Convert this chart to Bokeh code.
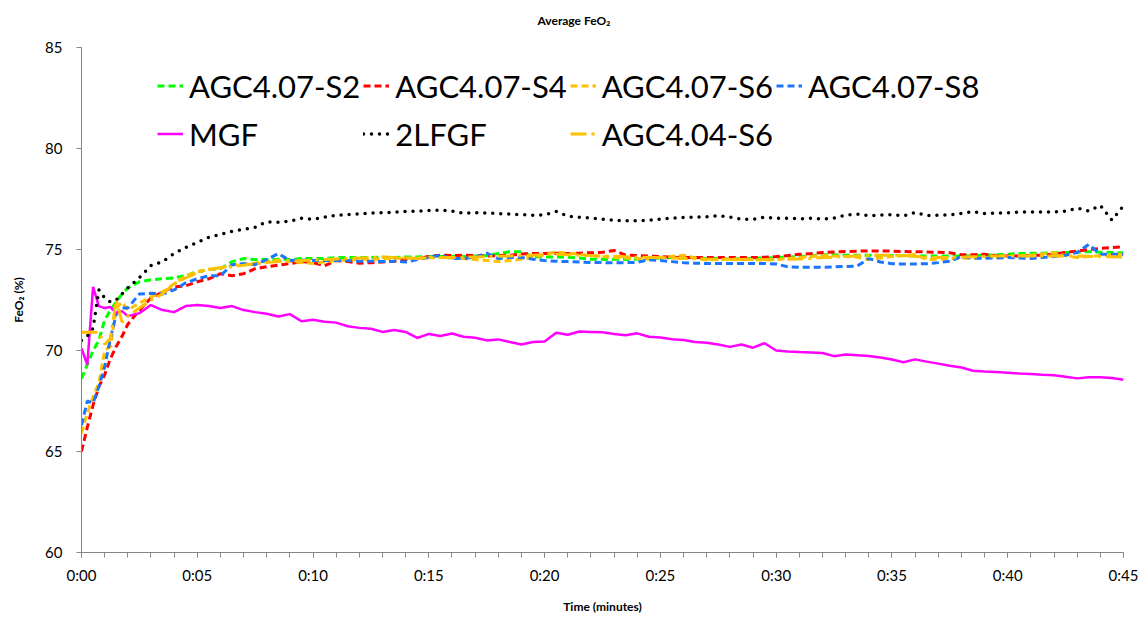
from bokeh.plotting import figure
from bokeh.models import Range1d, FixedTicker, Legend, LegendItem, Title
from bokeh.embed import file_html
from bokeh.resources import INLINE

time_min = [0, 0.25, 0.5, 0.75, 1.0, 1.25, 1.5, 1.75,
            2.0, 2.5, 3.0, 3.5, 4.0, 4.5, 5.0, 5.5, 6.0, 6.5,
            7.0, 7.5, 8.0, 8.5, 9.0, 9.5, 10.0, 10.5, 11.0, 11.5,
            12.0, 12.5, 13.0, 13.5, 14.0, 14.5, 15.0, 15.5, 16.0, 16.5,
            17.0, 17.5, 18.0, 18.5, 19.0, 19.5, 20.0, 20.5, 21.0, 21.5,
            22.0, 22.5, 23.0, 23.5, 24.0, 24.5, 25.0, 25.5, 26.0, 26.5,
            27.0, 27.5, 28.0, 28.5, 29.0, 29.5, 30.0, 30.5, 31.0, 31.5,
            32.0, 32.5, 33.0, 33.5, 34.0, 34.5, 35.0, 35.5, 36.0, 36.5,
            37.0, 37.5, 38.0, 38.5, 39.0, 39.5, 40.0, 40.5, 41.0, 41.5,
            42.0, 42.5, 43.0, 43.5, 44.0, 44.5, 45.0]

agc407_s2 = [68.6, 69.3, 70.0, 70.5, 71.5, 72.0, 72.4, 72.8,
             73.1, 73.4, 73.5, 73.55, 73.6, 73.7, 73.9, 74.0, 74.05, 74.4,
             74.55, 74.5, 74.5, 74.52, 74.5, 74.55, 74.56, 74.55, 74.6, 74.6,
             74.6, 74.6, 74.62, 74.6, 74.63, 74.63, 74.65, 74.65, 74.66, 74.65,
             74.68, 74.7, 74.8, 74.89, 74.89, 74.65, 74.63, 74.63, 74.62, 74.58,
             74.52, 74.51, 74.52, 74.51, 74.52, 74.55, 74.58, 74.6, 74.63, 74.6,
             74.56, 74.55, 74.53, 74.55, 74.56, 74.58, 74.6, 74.62, 74.65, 74.68,
             74.74, 74.74, 74.72, 74.72, 74.72, 74.7, 74.7, 74.69, 74.68, 74.68,
             74.68, 74.68, 74.68, 74.7, 74.72, 74.74, 74.77, 74.8, 74.81, 74.82,
             74.84, 74.85, 74.87, 74.89, 74.87, 74.85, 74.84]

agc407_s4 = [65.0, 66.2, 67.3, 68.2, 68.8, 69.6, 70.2, 70.7,
             71.3, 72.0, 72.6, 72.9, 73.15, 73.2, 73.4, 73.55, 73.8, 73.7,
             73.8, 74.05, 74.15, 74.22, 74.3, 74.4, 74.35, 74.2, 74.45, 74.4,
             74.32, 74.35, 74.38, 74.42, 74.5, 74.55, 74.65, 74.72, 74.7, 74.72,
             74.7, 74.68, 74.7, 74.72, 74.78, 74.8, 74.8, 74.82, 74.8, 74.82,
             74.84, 74.86, 74.95, 74.72, 74.7, 74.68, 74.65, 74.62, 74.6, 74.6,
             74.6, 74.6, 74.6, 74.6, 74.6, 74.62, 74.65, 74.7, 74.76, 74.8,
             74.85, 74.88, 74.9, 74.92, 74.92, 74.92, 74.92, 74.9, 74.89, 74.88,
             74.86, 74.84, 74.74, 74.74, 74.76, 74.7, 74.68, 74.68, 74.7, 74.72,
             74.78, 74.86, 74.92, 75.0, 75.05, 75.1, 75.13]

agc407_s6 = [65.9, 66.9, 67.7, 68.4, 70.0, 70.2, 72.1, 72.4,
             72.0, 72.35, 72.65, 72.9, 73.3, 73.7, 73.9, 74.0, 74.1, 74.23,
             74.28, 74.33, 74.4, 74.48, 74.42, 74.35, 74.31, 74.38, 74.45, 74.48,
             74.5, 74.52, 74.54, 74.56, 74.58, 74.58, 74.6, 74.6, 74.58, 74.55,
             74.5, 74.45, 74.4, 74.45, 74.52, 74.6, 74.75, 74.88, 74.82, 74.76,
             74.7, 74.65, 74.6, 74.58, 74.55, 74.53, 74.6, 74.66, 74.72, 74.58,
             74.48, 74.5, 74.53, 74.52, 74.5, 74.48, 74.5, 74.55, 74.6, 74.65,
             74.7, 74.68, 74.65, 74.62, 74.5, 74.58, 74.65, 74.7, 74.75, 74.5,
             74.52, 74.55, 74.57, 74.58, 74.6, 74.62, 74.65, 74.68, 74.72, 74.78,
             74.84, 74.7, 74.6, 74.65, 74.7, 74.74, 74.76]

agc407_s8 = [66.3, 67.5, 67.4, 68.2, 69.2, 70.6, 71.8, 72.1,
             72.1, 72.8, 72.83, 72.8, 73.0, 73.35, 73.55, 73.7, 73.7, 74.25,
             74.3, 74.25, 74.5, 74.8, 74.45, 74.48, 74.45, 74.45, 74.45, 74.45,
             74.42, 74.42, 74.4, 74.42, 74.38, 74.5, 74.6, 74.72, 74.55, 74.55,
             74.62, 74.82, 74.55, 74.6, 74.6, 74.52, 74.45, 74.42, 74.4, 74.38,
             74.36, 74.35, 74.35, 74.35, 74.36, 74.5, 74.45, 74.4, 74.35, 74.32,
             74.31, 74.31, 74.31, 74.31, 74.31, 74.31, 74.28, 74.15, 74.12, 74.12,
             74.12, 74.14, 74.16, 74.18, 74.55, 74.38, 74.3, 74.28, 74.28, 74.3,
             74.35, 74.42, 74.65, 74.56, 74.57, 74.58, 74.6, 74.58, 74.56, 74.6,
             74.65, 74.72, 74.85, 75.25, 74.76, 74.76, 74.76]

mgf = [70.1, 69.3, 73.15, 72.2, 72.1, 72.15, 71.85, 71.95,
       71.7, 71.85, 72.25, 72.0, 71.9, 72.2, 72.25, 72.2, 72.1, 72.2,
       72.0, 71.9, 71.82, 71.68, 71.8, 71.45, 71.52, 71.42, 71.38, 71.2,
       71.12, 71.08, 70.92, 71.02, 70.92, 70.62, 70.82, 70.72, 70.84, 70.68,
       70.63, 70.5, 70.55, 70.42, 70.3, 70.42, 70.45, 70.88, 70.78, 70.94,
       70.92, 70.9, 70.82, 70.76, 70.85, 70.68, 70.64, 70.56, 70.52, 70.42,
       70.38, 70.3, 70.18, 70.3, 70.14, 70.36, 70.0, 69.95, 69.92, 69.9,
       69.88, 69.72, 69.8, 69.77, 69.73, 69.65, 69.55, 69.42, 69.56, 69.45,
       69.35, 69.25, 69.16, 69.0, 68.96, 68.94, 68.9, 68.86, 68.84, 68.8,
       68.78, 68.7, 68.62, 68.68, 68.68, 68.64, 68.55]

lfgf2 = [70.5, 70.7, 71.1, 73.0, 72.6, 72.4, 72.5, 72.8,
         73.1, 73.6, 74.2, 74.4, 74.8, 75.1, 75.35, 75.6, 75.75, 75.9,
         76.0, 76.1, 76.37, 76.35, 76.4, 76.55, 76.5, 76.6, 76.7, 76.73,
         76.76, 76.8, 76.82, 76.85, 76.88, 76.9, 76.93, 76.95, 76.9, 76.8,
         76.82, 76.8, 76.78, 76.75, 76.72, 76.7, 76.72, 76.88, 76.65, 76.6,
         76.55, 76.5, 76.45, 76.42, 76.42, 76.45, 76.5, 76.55, 76.58, 76.6,
         76.62, 76.67, 76.6, 76.5, 76.5, 76.6, 76.55, 76.55, 76.52, 76.55,
         76.5, 76.55, 76.7, 76.75, 76.68, 76.7, 76.72, 76.66, 76.83, 76.68,
         76.7, 76.72, 76.78, 76.88, 76.78, 76.8, 76.82, 76.86, 76.86, 76.85,
         76.86, 76.9, 77.05, 76.9, 77.18, 76.45, 77.16]

agc404_s6 = [70.9, 70.9, 70.9, 70.9, 70.3, 70.6, 72.5, 71.4,
             71.7, 72.1, 72.5, 72.8, 73.3, 73.6, 73.85, 74.02, 74.1, 74.15,
             74.22, 74.3, 74.35, 74.4, 74.42, 74.45, 74.48, 74.5, 74.53, 74.56,
             74.58, 74.6, 74.63, 74.6, 74.58, 74.56, 74.58, 74.6, 74.6, 74.62,
             74.63, 74.65, 74.66, 74.68, 74.7, 74.72, 74.74, 74.76, 74.74, 74.72,
             74.7, 74.68, 74.66, 74.64, 74.62, 74.6, 74.6, 74.58, 74.56, 74.54,
             74.52, 74.51, 74.51, 74.5, 74.5, 74.5, 74.51, 74.52, 74.53, 74.56,
             74.6, 74.62, 74.65, 74.68, 74.7, 74.72, 74.72, 74.7, 74.66, 74.62,
             74.6, 74.6, 74.62, 74.64, 74.66, 74.68, 74.68, 74.68, 74.68, 74.68,
             74.68, 74.68, 74.68, 74.66, 74.65, 74.64, 74.63]

series_names = ["AGC4.07-S2", "AGC4.07-S4", "AGC4.07-S6", "AGC4.07-S8",
                "MGF", "2LFGF", "AGC4.04-S6"]
x_ticks = [0, 5, 10, 15, 20, 25, 30, 35, 40, 45]
x_tick_labels = ["0:00", "0:05", "0:10", "0:15", "0:20", "0:25", "0:30",
                 "0:35", "0:40", "0:45"]
y_ticks = [60, 65, 70, 75, 80, 85]

FONT = "Lato"
AXIS_COLOR = "#868686"

p = figure(width=1140, height=616, output_backend="svg", toolbar_location=None,
           x_range=Range1d(0, 45), y_range=Range1d(60, 85),
           min_border_left=81, min_border_right=17, min_border_top=47,
           min_border_bottom=63)
p.outline_line_color = None
p.xgrid.visible = False
p.ygrid.visible = False
p.background_fill_color = "white"
p.border_fill_color = "white"

p.title = Title(text="Average FeO\u2082\n ", align="left", offset=456,
                text_font=FONT, text_font_size="12px", text_font_style="bold",
                text_color="black")

styles = [
    (agc407_s2, "#00FF00", "7 4", 3, "butt"),
    (agc407_s4, "#FF0000", "7 4", 3, "butt"),
    (agc407_s6, "#FFC000", "7 4", 3, "butt"),
    (agc407_s8, "#1A75FF", "7 4", 3, "butt"),
    (mgf, "#FF00FF", "solid", 2.5, "butt"),
    (lfgf2, "#000000", "0 8", 3.5, "round"),
    (agc404_s6, "#FFC000", "16 5 3 5", 3, "butt"),
]

items = []
for name, (vals, color, dash, w, cap) in zip(series_names, styles):
    r = p.line(time_min, vals, line_color=color, line_width=w, line_dash=dash,
               line_cap=cap)
    items.append(LegendItem(label=name, renderers=[r]))

legend = Legend(items=items, orientation="horizontal", ncols=4,
                location=(76, 396), padding=0, margin=0, spacing=3,
                glyph_width=26, glyph_height=45, label_height=45,
                label_standoff=6, label_text_font=FONT,
                label_text_font_size="31px", label_text_color="black",
                border_line_color=None, background_fill_alpha=0)
p.add_layout(legend, "center")

xa = p.xaxis[0]
xa.ticker = FixedTicker(ticks=x_ticks, minor_ticks=list(range(0, 46)))
xa.major_label_overrides = {t: l for t, l in zip(x_ticks, x_tick_labels)}
ya = p.yaxis[0]
ya.ticker = FixedTicker(ticks=y_ticks, minor_ticks=[])

for ax in (xa, ya):
    ax.axis_line_color = AXIS_COLOR
    ax.axis_line_width = 1
    ax.major_tick_line_color = AXIS_COLOR
    ax.minor_tick_line_color = AXIS_COLOR
    ax.major_tick_in = 0
    ax.major_tick_out = 5
    ax.minor_tick_in = 0
    ax.minor_tick_out = 5
    ax.major_label_text_font = FONT
    ax.major_label_text_font_size = "15px"
    ax.major_label_text_color = "black"
    ax.axis_label_text_font = FONT
    ax.axis_label_text_font_size = "12px"
    ax.axis_label_text_font_style = "bold"
    ax.axis_label_text_color = "black"

xa.axis_label = "Time (minutes)"
xa.major_label_standoff = 8
xa.axis_label_standoff = 12
ya.axis_label = "FeO\u2082 (%)"
ya.major_label_standoff = 14
ya.axis_label_standoff = 16
ya.minor_tick_out = 0

open("out.html", "w").write(file_html(p, INLINE))
